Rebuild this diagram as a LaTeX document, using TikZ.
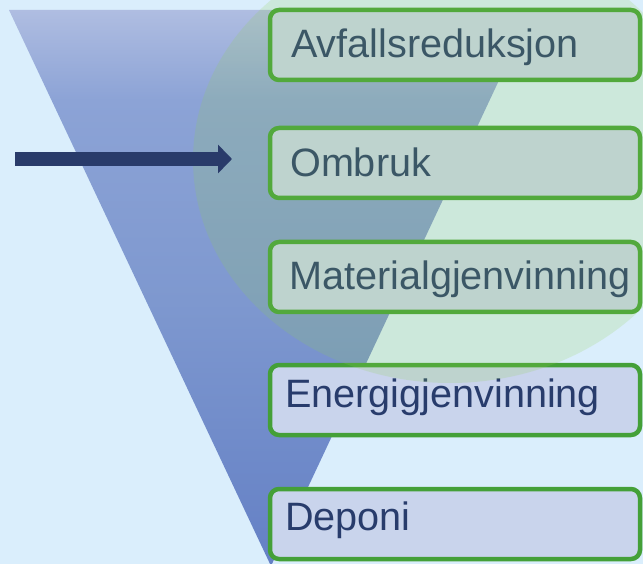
\documentclass[tikz,border=0pt]{standalone}
\usepackage{fontspec}
\setmainfont{Liberation Sans}
\usetikzlibrary{arrows.meta}
\definecolor{bgblue}{RGB}{218,238,252}
\definecolor{triA}{RGB}{175,189,225}
\definecolor{triB}{RGB}{140,163,214}
\definecolor{triC}{RGB}{126,152,207}
\definecolor{triD}{RGB}{100,128,197}
\definecolor{ringgreen}{RGB}{146,208,80}
\definecolor{boxfill}{RGB}{201,212,236}
\definecolor{boxline}{RGB}{68,160,56}
\definecolor{navy}{RGB}{41,59,106}
\definecolor{txtnavy}{RGB}{40,60,108}
\pgfdeclareverticalshading{trishade}{100bp}{color(0bp)=(triD); color(25bp)=(triD); color(48.8bp)=(triC); color(66.9bp)=(triB); color(75bp)=(triA); color(100bp)=(triA)}
\tikzset{
  stagebox/.style={draw=boxline, fill=boxfill, line width=4.5pt, rounded corners=9pt,
    minimum width=370pt, minimum height=70pt, inner sep=0pt, outer sep=0pt},
  stagelabel/.style={anchor=base west, inner sep=0pt, text=txtnavy,
    font=\fontsize{39.6}{44}\selectfont},
}
\begin{document}
\begin{tikzpicture}[x=1pt,y=-1pt]
\useasboundingbox (0,0) rectangle (643,564);
\clip (0,0) rectangle (643,564);
\fill[bgblue] (0,0) rectangle (643,564);
% funnel
\shade[shading=trishade] (9,10) -- (532,10) -- (271,566) -- cycle;
% boxes
\node[stagebox] (b1) at (455,45) {};
\node[stagebox] (b2) at (455,163) {};
\node[stagebox] (b3) at (455,277) {};
\node[stagebox] (b4) at (455,400) {};
\node[stagebox] (b5) at (455,524) {};
\node[stagelabel] (t1) at (291,58) {Avfallsreduksjon};
\node[stagelabel] (t2) at (290,177) {Ombruk};
\node[stagelabel] (t3) at (289,290) {Materialgjenvinning};
\node[stagelabel] (t4) at (285,407) {Energigjenvinning};
\node[stagelabel] (t5) at (285,530) {Deponi};
% translucent green ring
\fill[ringgreen, opacity=0.19] (450,160) ellipse [x radius=257pt, y radius=223pt];
% arrow
\coordinate (arrowtail) at (15,159);
\coordinate (arrowtip) at (232,159);
\draw[navy, line width=14pt, line cap=butt, -{Triangle[width=28pt, length=14pt]}] (arrowtail) -- (arrowtip);
\end{tikzpicture}
\end{document}
